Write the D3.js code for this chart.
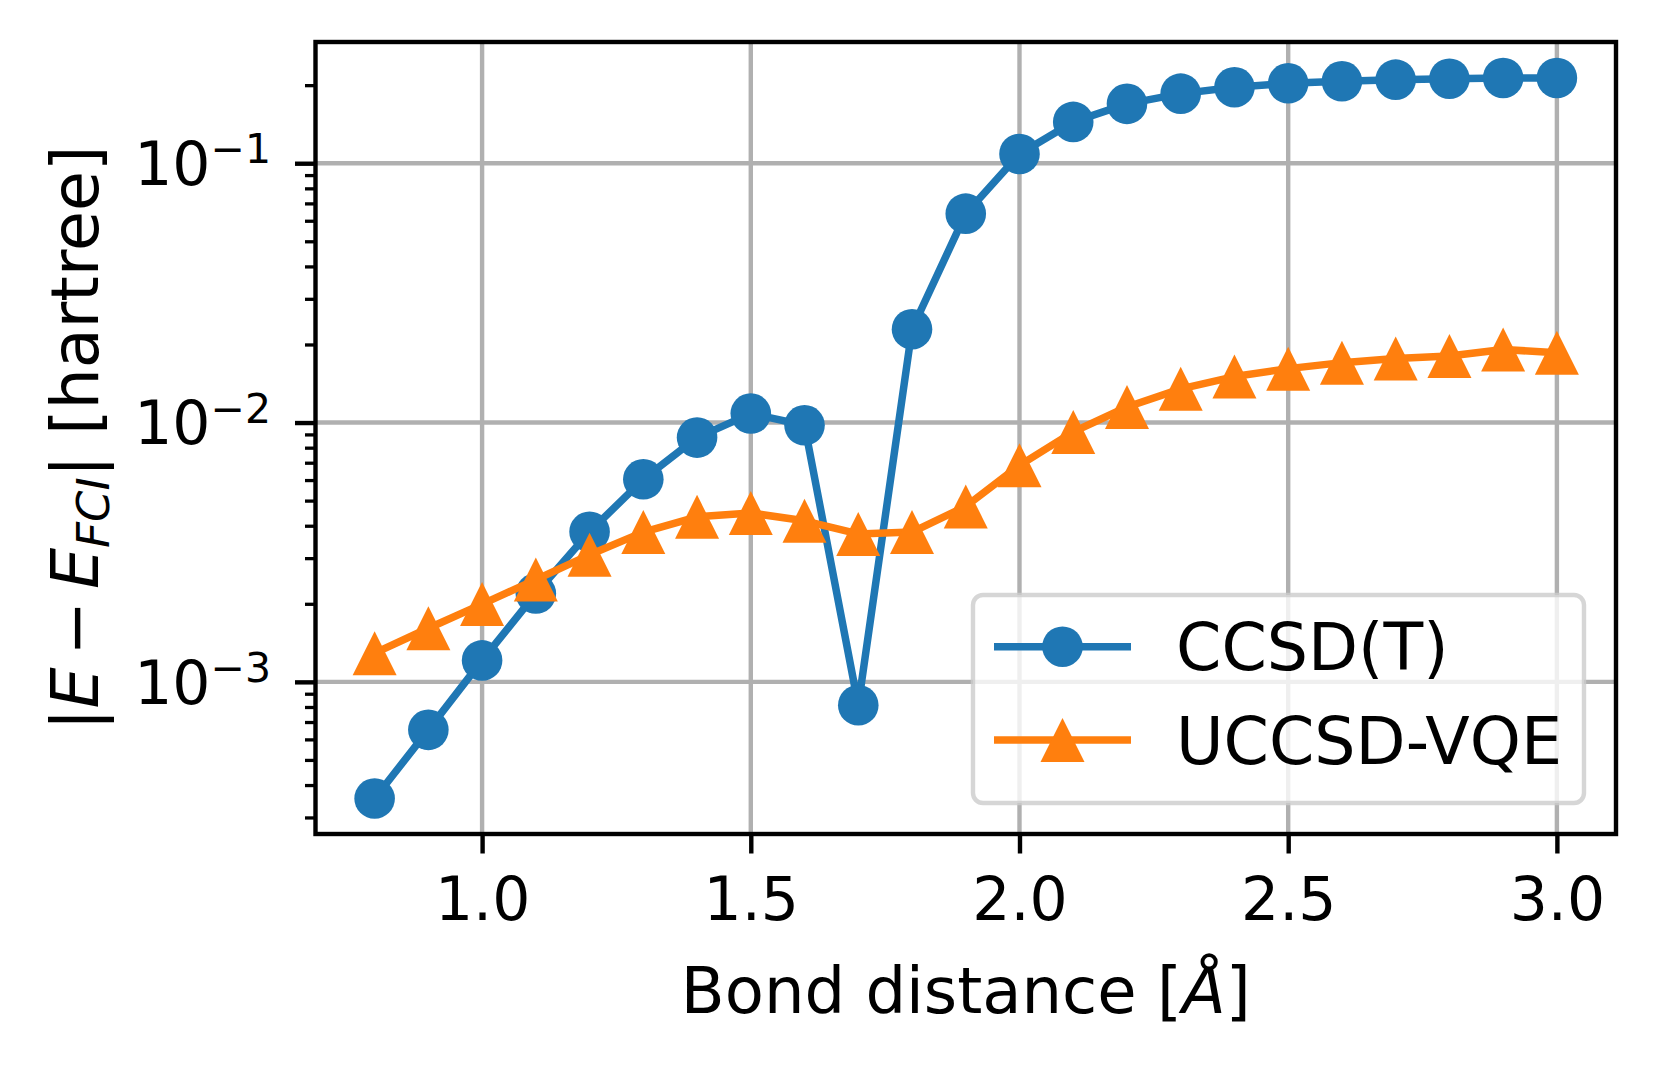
<!DOCTYPE html>
<html>
<head>
<meta charset="utf-8">
<script src="https://cdn.jsdelivr.net/npm/d3@7"></script>
<style>
  body { margin: 0; background: #fff; }
  text { font-family: "DejaVu Sans", sans-serif; }
</style>
</head>
<body>
<div id="chart"></div>
<script>
// data
var bondDist = [0.8, 0.9, 1.0, 1.1, 1.2, 1.3, 1.4, 1.5, 1.6, 1.7, 1.8, 1.9,
                2.0, 2.1, 2.2, 2.3, 2.4, 2.5, 2.6, 2.7, 2.8, 2.9, 3.0];
var ccsdT = [3.55e-4, 6.53e-4, 1.21e-3, 2.19e-3, 3.79e-3, 6.04e-3, 8.75e-3, 1.083e-2,
             9.76e-3, 8.13e-4, 2.29e-2, 6.39e-2, 0.1086, 0.1443, 0.1694, 0.1855,
             0.1963, 0.2033, 0.2070, 0.2100, 0.2118, 0.2132, 0.2132];
var uccsdVqe = [1.29e-3, 1.61e-3, 1.995e-3, 2.48e-3, 3.09e-3, 3.78e-3, 4.33e-3, 4.48e-3,
                4.18e-3, 3.72e-3, 3.78e-3, 4.75e-3, 6.84e-3, 9.2e-3, 1.148e-2, 1.349e-2,
                1.504e-2, 1.614e-2, 1.702e-2, 1.766e-2, 1.804e-2, 1.914e-2, 1.857e-2];
var xTicks = [1.0, 1.5, 2.0, 2.5, 3.0];
var yTicks = [1e-3, 1e-2, 1e-1];
var yTickExp = ["\u22123", "\u22122", "\u22121"];
var seriesNames = ["CCSD(T)", "UCCSD-VQE"];
var seriesColors = ["#1f77b4", "#ff7f0e"];

var width = 1658, height = 1072;
var plot = {left: 315.5, right: 1616, top: 42, bottom: 834};

var svg = d3.select("#chart").append("svg")
    .attr("width", width)
    .attr("height", height);

// scales
var x = d3.scaleLinear().domain([0.69, 3.11]).range([plot.left, plot.right]);
var y = d3.scaleLog().domain([2.59e-4, 0.2934]).range([plot.bottom, plot.top]);

// minor ticks for the log axis
var yMinor = [];
for (var k = -4; k <= -1; k++) {
  for (var m = 2; m <= 9; m++) {
    var v = m * Math.pow(10, k);
    if (v >= y.domain()[0] && v <= y.domain()[1]) yMinor.push(v);
  }
}

// grid
var grid = svg.append("g").attr("stroke", "#b0b0b0").attr("stroke-width", 4.4);
grid.selectAll(".gx").data(xTicks).enter().append("line")
    .attr("x1", function(d) { return x(d); }).attr("x2", function(d) { return x(d); })
    .attr("y1", plot.top).attr("y2", plot.bottom);
grid.selectAll(".gy").data(yTicks).enter().append("line")
    .attr("y1", function(d) { return y(d); }).attr("y2", function(d) { return y(d); })
    .attr("x1", plot.left).attr("x2", plot.right);

// series
var data = [ccsdT, uccsdVqe];
var line = d3.line()
    .x(function(d, i) { return x(bondDist[i]); })
    .y(function(d) { return y(d); });

svg.append("clipPath").attr("id", "clip").append("rect")
    .attr("x", plot.left).attr("y", plot.top)
    .attr("width", plot.right - plot.left).attr("height", plot.bottom - plot.top);

var tri = function(s) { return "M0," + (-s) + "L" + s + "," + s + "L" + (-s) + "," + s + "Z"; };

data.forEach(function(vals, si) {
  var g = svg.append("g").attr("clip-path", "url(#clip)");
  g.append("path")
      .datum(vals)
      .attr("d", line)
      .attr("fill", "none")
      .attr("stroke", seriesColors[si])
      .attr("stroke-width", 7.5)
      .attr("stroke-linejoin", "round");
  if (si === 0) {
    g.selectAll("circle").data(vals).enter().append("circle")
        .attr("cx", function(d, i) { return x(bondDist[i]); })
        .attr("cy", function(d) { return y(d); })
        .attr("r", 20.3)
        .attr("fill", seriesColors[si]);
  } else {
    g.selectAll(".tri").data(vals).enter().append("path")
        .attr("d", tri(22))
        .attr("transform", function(d, i) { return "translate(" + x(bondDist[i]) + "," + y(d) + ")"; })
        .attr("fill", seriesColors[si]);
  }
});

// x axis
var xAxis = svg.append("g")
    .attr("transform", "translate(0," + plot.bottom + ")")
    .call(d3.axisBottom(x).tickValues(xTicks).tickFormat(d3.format(".1f")).tickSize(19.5).tickSizeOuter(0));
xAxis.select(".domain").remove();
xAxis.selectAll("line").attr("stroke", "#000").attr("stroke-width", 4.4);
xAxis.selectAll("text")
    .attr("y", 86).attr("dy", null)
    .attr("fill", "#000")
    .style("font-size", "60px")
    .style("font-family", "DejaVu Sans");

// y axis major + minor ticks
var yAxis = svg.append("g")
    .attr("transform", "translate(" + plot.left + ",0)")
    .call(d3.axisLeft(y).tickValues(yTicks).tickFormat("").tickSize(20.5).tickSizeOuter(0));
yAxis.select(".domain").remove();
yAxis.selectAll("line").attr("stroke", "#000").attr("stroke-width", 4.4);

var yAxisMinor = svg.append("g")
    .attr("transform", "translate(" + plot.left + ",0)")
    .call(d3.axisLeft(y).tickValues(yMinor).tickFormat("").tickSize(10.5).tickSizeOuter(0));
yAxisMinor.select(".domain").remove();
yAxisMinor.selectAll("line").attr("stroke", "#000").attr("stroke-width", 3.3);

// y tick labels as 10^k
yTicks.forEach(function(t, i) {
  var lbl = svg.append("text")
      .attr("x", 271)
      .attr("y", y(t) + 21.7)
      .attr("text-anchor", "end")
      .style("font-size", "60px");
  lbl.append("tspan").text("10");
  lbl.append("tspan").attr("dy", -21.7).style("font-size", "41px").text(yTickExp[i]);
});

// spines
svg.append("rect")
    .attr("x", plot.left).attr("y", plot.top)
    .attr("width", plot.right - plot.left).attr("height", plot.bottom - plot.top)
    .attr("fill", "none")
    .attr("stroke", "#000")
    .attr("stroke-width", 4.4);

// x label
var xl = svg.append("text")
    .attr("x", (plot.left + plot.right) / 2)
    .attr("y", 1013)
    .attr("text-anchor", "middle")
    .style("font-size", "64px");
xl.append("tspan").text("Bond distance [");
xl.append("tspan").style("font-style", "italic").text("\u00c5");
xl.append("tspan").text("]");

// y label
var yl = svg.append("text")
    .attr("transform", "translate(98," + ((plot.top + plot.bottom) / 2) + ") rotate(-90)")
    .attr("text-anchor", "middle")
    .style("font-size", "65px");
yl.append("tspan").text("|");
yl.append("tspan").style("font-style", "italic").text("E");
yl.append("tspan").attr("dx", 12).text("\u2212");
yl.append("tspan").attr("dx", 12).style("font-style", "italic").text("E");
yl.append("tspan").style("font-style", "italic").style("font-size", "45px").attr("dy", 11).text("FCI");
yl.append("tspan").attr("dy", -11).text("|");
yl.append("tspan").text(" [hartree]");

// legend
var legend = svg.append("g");
legend.append("rect")
    .attr("x", 973).attr("y", 595)
    .attr("width", 611).attr("height", 208)
    .attr("rx", 10).attr("ry", 10)
    .attr("fill", "#fff").attr("fill-opacity", 0.8)
    .attr("stroke", "#cccccc").attr("stroke-opacity", 0.8)
    .attr("stroke-width", 4.4);

var legendY = [646.7, 740];
seriesNames.forEach(function(name, i) {
  legend.append("line")
      .attr("x1", 994).attr("x2", 1131)
      .attr("y1", legendY[i]).attr("y2", legendY[i])
      .attr("stroke", seriesColors[i]).attr("stroke-width", 7.5);
  if (i === 0) {
    legend.append("circle").attr("cx", 1062.5).attr("cy", legendY[i]).attr("r", 20.3)
        .attr("fill", seriesColors[i]);
  } else {
    legend.append("path").attr("d", tri(22))
        .attr("transform", "translate(1062.5," + legendY[i] + ")")
        .attr("fill", seriesColors[i]);
  }
  legend.append("text")
      .attr("x", 1176)
      .attr("y", legendY[i] + 23.7)
      .style("font-size", "65px")
      .text(name);
});
</script>
</body>
</html>
